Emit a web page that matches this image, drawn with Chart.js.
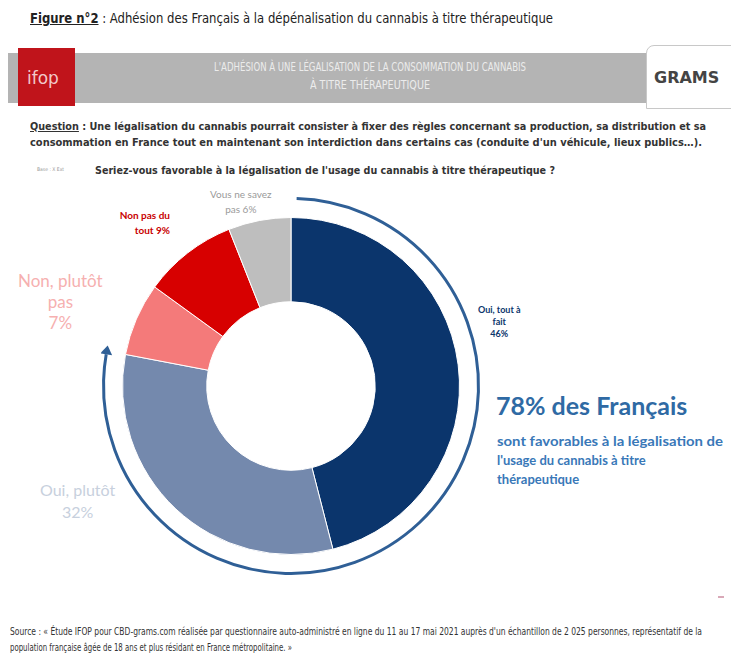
<!DOCTYPE html>
<html lang="fr">
<head>
<meta charset="utf-8">
<script src="https://cdn.jsdelivr.net/npm/chart.js@4.4.1/dist/chart.umd.min.js"></script>
<style>
  html, body { margin: 0; padding: 0; background: #fff; }
  body { width: 731px; height: 657px; position: relative; overflow: hidden; font-family: "Liberation Sans Narrow", "DejaVu Sans Condensed", sans-serif; color: #222; }
  .t { position: absolute; white-space: nowrap; line-height: 1; }
  .fit { transform-origin: left top; }
  #banner { position: absolute; left: 8px; top: 53px; width: 640px; height: 50px; background: #b4b4b4; }
  #ifop { position: absolute; left: 18px; top: 48px; width: 57px; height: 58px; background: #c0141b; color: #f2c9c9; font-family: "DejaVu Sans", sans-serif; font-size: 17px; }
  #grams { position: absolute; left: 646px; top: 45px; width: 100px; height: 62px; background: #fff; border: 1px solid #c8c8c8; border-radius: 8px 0 0 0; }
  #chartBox { position: absolute; left: 101px; top: 196px; width: 380px; height: 380px; }
  .lbl { position: absolute; text-align: center; white-space: nowrap; font-family: "Lato", "Open Sans", sans-serif; }
</style>
</head>
<body>
<div class="t fit" data-w="523" style="left:30px; top:11px; font-size:14px;"><span style="text-decoration:underline; font-weight:bold;">Figure n°2</span> : Adhésion des Français à la dépénalisation du cannabis à titre thérapeutique</div>

<div id="banner"></div>
<div id="ifop"><span style="position:absolute; left:9px; top:20px;">ifop</span></div>
<div class="t fit" data-w="312" style="left:214px; top:61px; font-size:12px; color:#ececec;">L'ADHÉSION À UNE LÉGALISATION DE LA CONSOMMATION DU CANNABIS</div>
<div class="t fit" data-w="120" style="left:310px; top:79px; font-size:12px; color:#ececec;">À TITRE THÉRAPEUTIQUE</div>
<div id="grams"><span style="position:absolute; left:7px; top:22px; font-family:'DejaVu Sans', sans-serif; font-weight:bold; font-size:16px; color:#444;">GRAMS</span></div>

<div class="t fit" data-w="676" style="left:30px; top:121px; font-size:11px; font-weight:bold; color:#333;"><span style="text-decoration:underline;">Question</span> : Une légalisation du cannabis pourrait consister à fixer des règles concernant sa production, sa distribution et sa</div>
<div class="t fit" data-w="672" style="left:30px; top:137px; font-size:11px; font-weight:bold; color:#333;">consommation en France tout en maintenant son interdiction dans certains cas (conduite d'un véhicule, lieux publics…).</div>

<div class="t" style="left:37px; top:167px; font-size:5px; color:#999;">Base : X Ext</div>
<div class="t fit" data-w="460" style="left:95px; top:165px; font-size:11px; font-weight:bold; color:#333;">Seriez-vous favorable à la légalisation de l'usage du cannabis à titre thérapeutique ?</div>

<div id="labels"></div>

<div id="chartBox"><canvas id="donut"></canvas></div>

<div class="t" style="left:496px; top:393px; font-family:'Lato','Open Sans',sans-serif; font-weight:bold; font-size:25px; color:#2f6aa4;">78% des Français</div>
<div class="t fit" data-w="226" style="left:497px; top:435px; font-family:'Lato','Open Sans',sans-serif; font-weight:bold; font-size:13px; color:#3978b8;">sont favorables à la légalisation de</div>
<div class="t" style="left:497px; top:454px; font-family:'Lato','Open Sans',sans-serif; font-weight:bold; font-size:13px; color:#3978b8;">l'usage du cannabis à titre</div>
<div class="t" style="left:497px; top:473px; font-family:'Lato','Open Sans',sans-serif; font-weight:bold; font-size:13px; color:#3978b8;">thérapeutique</div>

<div class="t" style="left:718px; top:596px; width:6px; height:2px; background:#d9a9b8;"></div>

<div class="t fit" data-w="692" style="left:10px; top:627px; font-size:10px; color:#333;">Source : « Étude IFOP pour CBD-grams.com réalisée par questionnaire auto-administré en ligne du 11 au 17 mai 2021 auprès d'un échantillon de 2 025 personnes, représentatif de la</div>
<div class="t fit" data-w="282" style="left:10px; top:643px; font-size:10px; color:#333;">population française âgée de 18 ans et plus résidant en France métropolitaine. »</div>

<script>
// Réponses (sens horaire depuis midi)
const categories = ["Oui, tout à fait", "Oui, plutôt", "Non, plutôt pas", "Non pas du tout", "Vous ne savez pas"];
const values = [46, 32, 7, 9, 6];
const colors = ["#0b356c", "#7489ad", "#f47a7a", "#d70000", "#bebebe"];
// Libellés affichés autour de l'anneau
const labelLines = [["Oui, tout à", "fait", "46%"], ["Oui, plutôt", "32%"], ["Non, plutôt", "pas", "7%"], ["Non pas du", "tout 9%"], ["Vous ne savez", "pas 6%"]];

// placement des libellés
const labelStyle = [
    { left: 478, top: 304, size: 9, lh: 12, color: "#0b356c", bold: true },
    { left: 40, top: 479, size: 16, lh: 22, color: "#c7d0dd", bold: false },
    { left: 18, top: 270, size: 17, lh: 21, color: "#f6b0b0", bold: false },
    { left: 100, top: 208, size: 10, lh: 15, color: "#c80000", bold: true, align: "right", width: 70 },
    { left: 210, top: 187, size: 10, lh: 15, color: "#9a9a9a", bold: false }
];

let labelsDiv = document.getElementById("labels");
labelLines.forEach((lines, i) => {
    let s = labelStyle[i];
    let d = document.createElement("div");
    d.className = "lbl";
    d.style.left = s.left + "px";
    d.style.top = s.top + "px";
    d.style.fontSize = s.size + "px";
    d.style.lineHeight = s.lh + "px";
    d.style.color = s.color;
    d.style.fontWeight = s.bold ? "bold" : "normal";
    if (s.align) { d.style.textAlign = s.align; d.style.width = s.width + "px"; }
    d.innerHTML = lines.join("<br>");
    labelsDiv.appendChild(d);
});

// Flèche circulaire autour de l'anneau
const arrowPlugin = {
    id: "arrowArc",
    afterDatasetsDraw(chart) {
        let arc = chart.getDatasetMeta(0).data[0];
        if (!arc) return;
        let ctx = chart.ctx;
        let r = arc.outerRadius + 19;
        let start = -Math.PI / 2 + 0.03;
        let end = Math.PI + 0.17;
        ctx.save();
        ctx.strokeStyle = "#2f5f96";
        ctx.fillStyle = "#2f5f96";
        ctx.lineWidth = 3;
        ctx.beginPath();
        ctx.arc(arc.x, arc.y, r, start, end);
        ctx.stroke();
        // pointe
        let ex = arc.x + r * Math.cos(end), ey = arc.y + r * Math.sin(end);
        let tx = -Math.sin(end), ty = Math.cos(end);
        let nx = Math.cos(end), ny = Math.sin(end);
        ctx.beginPath();
        ctx.moveTo(ex + tx * 9, ey + ty * 9);
        ctx.lineTo(ex + nx * 6, ey + ny * 6);
        ctx.lineTo(ex - nx * 6, ey - ny * 6);
        ctx.closePath();
        ctx.fill();
        ctx.restore();
    }
};

new Chart(document.getElementById("donut").getContext("2d"), {
    type: "doughnut",
    data: {
        labels: categories,
        datasets: [{
            data: values,
            backgroundColor: colors,
            borderColor: "#ffffff",
            borderWidth: 1
        }]
    },
    options: {
        responsive: true,
        maintainAspectRatio: false,
        animation: false,
        cutout: "50%",
        layout: { padding: 21 },
        plugins: { legend: { display: false }, tooltip: { enabled: false } }
    },
    plugins: [arrowPlugin]
});

// ajuster la largeur des textes étroits
document.querySelectorAll(".fit").forEach(el => {
    let w = el.getBoundingClientRect().width;
    let target = parseFloat(el.dataset.w);
    if (w > 0) el.style.transform = `scaleX(${target / w})`;
});
</script>
</body>
</html>
